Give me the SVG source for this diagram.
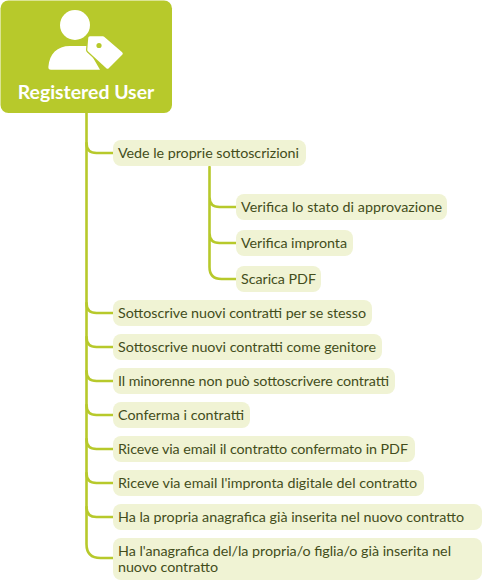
<svg xmlns="http://www.w3.org/2000/svg" width="483" height="581" viewBox="0 0 483 581">
<style>
.n{fill:#f0f3d4}
.t{font-family:"Lato","Liberation Sans",sans-serif;font-size:14.3px;fill:#434d1b}
.c{fill:none;stroke:#b7c92b;stroke-width:2.6;stroke-linecap:round}
.w{fill:#fff}
</style>
<rect width="483" height="581" fill="#fff"/>
<g id="connectors">
<path class="c" d="M86.500 113V544q0 14 14 14h12.500"/>
<path class="c" d="M86.500 143q0 10 10 10h16.500M86.500 303q0 10 10 10h16.500M86.500 337q0 10 10 10h16.500M86.500 371q0 10 10 10h16.500M86.500 405q0 10 10 10h16.500M86.500 439q0 10 10 10h16.500M86.500 473q0 10 10 10h16.500M86.500 507q0 10 10 10h16.500"/>
<path class="c" d="M209.500 167V267q0 12 12 12h14.500M209.500 197q0 10 10 10h16.500M209.500 233q0 10 10 10h16.500"/>
</g>
<g id="root">
<rect x="0.500" y="0.500" width="171.500" height="112.500" rx="8" fill="#b7c92b"/>
<circle class="w" cx="75" cy="25" r="15"/>
<path class="w" d="M51 69.700c-2 0-2.800-1-2.600-3C49.500 54 57 46 70 46h17l1 3 12 20.700z"/>
<path class="w" stroke="#b7c92b" stroke-width="6" stroke-linejoin="round" d="M90 38h13l18 15.500L107.500 67 89 50z"/>
<path class="w" stroke="#fff" stroke-width="3.500" stroke-linejoin="round" d="M90 38h13l18 15.500L107.500 67 89 50z"/>
<circle cx="99" cy="45.500" r="2.600" fill="#b7c92b"/>
<text x="86" y="99" text-anchor="middle" style="font-family:Lato,'Liberation Sans',sans-serif;font-size:19.400px;font-weight:700;fill:#fff">Registered User</text>
</g>
<g id="n1"><rect class="n" x="113" y="140" width="193" height="26" rx="8"/><text class="t" x="118" y="158" textLength="181">Vede le proprie sottoscrizioni</text></g>
<g id="n1a"><rect class="n" x="236" y="194" width="211" height="26" rx="8"/><text class="t" x="241" y="212" textLength="201">Verifica lo stato di approvazione</text></g>
<g id="n1b"><rect class="n" x="236" y="230" width="117" height="26" rx="8"/><text class="t" x="241" y="248" textLength="106">Verifica impronta</text></g>
<g id="n1c"><rect class="n" x="236" y="266" width="85" height="26" rx="8"/><text class="t" x="241" y="284" textLength="75">Scarica PDF</text></g>
<g id="n2"><rect class="n" x="113" y="300" width="259" height="26" rx="8"/><text class="t" x="118" y="318" textLength="248">Sottoscrive nuovi contratti per se stesso</text></g>
<g id="n3"><rect class="n" x="113" y="334" width="269" height="26" rx="8"/><text class="t" x="118" y="352" textLength="258">Sottoscrive nuovi contratti come genitore</text></g>
<g id="n4"><rect class="n" x="113" y="368" width="282" height="26" rx="8"/><text class="t" x="118" y="386" textLength="271">Il minorenne non può sottoscrivere contratti</text></g>
<g id="n5"><rect class="n" x="113" y="402" width="137" height="26" rx="8"/><text class="t" x="118" y="420" textLength="126">Conferma i contratti</text></g>
<g id="n6"><rect class="n" x="113" y="436" width="302" height="26" rx="8"/><text class="t" x="118" y="454" textLength="290">Riceve via email il contratto confermato in PDF</text></g>
<g id="n7"><rect class="n" x="113" y="470" width="311" height="26" rx="8"/><text class="t" x="118" y="488" textLength="299">Riceve via email l'impronta digitale del contratto</text></g>
<g id="n8"><rect class="n" x="113" y="504" width="369" height="26" rx="8"/><text class="t" x="118" y="522" textLength="346">Ha la propria anagrafica già inserita nel nuovo contratto</text></g>
<g id="n9"><rect class="n" x="113" y="538" width="369" height="42" rx="8"/><text class="t" x="118" y="556" textLength="333">Ha l'anagrafica del/la propria/o figlia/o già inserita nel</text><text class="t" x="118" y="572" textLength="100">nuovo contratto</text></g>
</svg>
